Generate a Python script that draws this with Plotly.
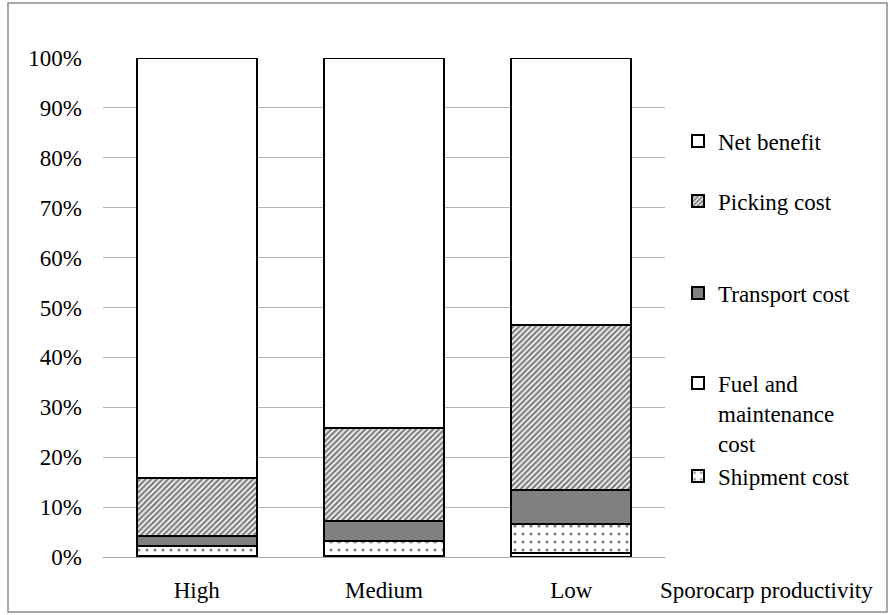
import plotly.graph_objects as go

categories = ["High", "Medium", "Low"]
fuel = [0.3, 0.3, 0.9]
shipment = [1.9, 3.0, 5.8]
transport = [2.1, 4.0, 6.7]
picking = [11.5, 18.6, 33.1]
net = [84.2, 74.1, 53.5]

ytick_vals = [0, 10, 20, 30, 40, 50, 60, 70, 80, 90, 100]
ytick_text = ["0%", "10%", "20%", "30%", "40%", "50%", "60%", "70%", "80%", "90%", "100%"]

FONT = "'Liberation Serif', 'Times New Roman', Times, serif"
FS = 23

L, R, T, B = 103, 665, 58, 557
W, H = 891, 615

def px_x(px):
    return (px - L) / (R - L)

def px_y(py):
    return (B - py) / (B - T)

line = dict(color="black", width=2)

fig = go.Figure()
fig.add_trace(go.Bar(x=categories, y=fuel, name="Fuel and<br>maintenance<br>cost",
                     marker=dict(color="white", line=line), legend="legend4", showlegend=True))
fig.add_trace(go.Bar(x=categories, y=shipment, name="Shipment cost",
                     marker=dict(color="white", line=line,
                                 pattern=dict(shape=".", fgcolor="black", bgcolor="white",
                                              size=8, solidity=0.12)), legend="legend5", showlegend=True))
fig.add_trace(go.Bar(x=categories, y=transport, name="Transport cost",
                     marker=dict(color="#808080", line=line), legend="legend3", showlegend=True))
fig.add_trace(go.Bar(x=categories, y=picking, name="Picking cost",
                     marker=dict(color="white", line=line,
                                 pattern=dict(shape="/", fgcolor="black", bgcolor="white",
                                              size=4, solidity=0.6)), legend="legend2", showlegend=True))
fig.add_trace(go.Bar(x=categories, y=net, name="Net benefit",
                     marker=dict(color="white", line=line), legend="legend", showlegend=True))

leg_common = dict(font=dict(family=FONT, size=FS, color="black"), bgcolor="rgba(0,0,0,0)",
                  xanchor="left", yanchor="middle", itemsizing="constant")
lx = px_x(678)

fig.update_layout(
    width=W, height=H,
    margin=dict(l=L, r=W - R, t=T, b=H - B, autoexpand=False),
    paper_bgcolor="white", plot_bgcolor="white",
    barmode="stack", bargap=0.36, showlegend=True,
    font=dict(family=FONT, size=FS, color="black"),
    legend=dict(x=lx, y=px_y(141), **leg_common),
    legend2=dict(x=lx, y=px_y(201), **leg_common),
    legend3=dict(x=lx, y=px_y(293), **leg_common),
    legend4=dict(x=lx, y=px_y(413), valign="top", **leg_common),
    legend5=dict(x=lx, y=px_y(476), **leg_common),
    xaxis=dict(showline=True, linecolor="#a6a6a6", linewidth=1, ticks="", automargin=False,
               tickfont=dict(family=FONT, size=FS), ticklabelstandoff=12),
    yaxis=dict(range=[0, 100], tickmode="array", tickvals=ytick_vals, ticktext=ytick_text,
               showgrid=True, gridcolor="#b3b3b3", gridwidth=1, zeroline=False, automargin=False,
               showline=False, ticks="", ticklabelstandoff=20,
               tickfont=dict(family=FONT, size=FS)),
    shapes=[dict(type="rect", xref="paper", yref="paper",
                 x0=px_x(8), x1=px_x(887), y0=px_y(612), y1=px_y(3),
                 line=dict(color="#8c8c8c", width=1.5), fillcolor="rgba(0,0,0,0)", layer="below")],
    annotations=[dict(text="Sporocarp productivity", xref="paper", yref="paper",
                      x=px_x(766), y=px_y(590), showarrow=False,
                      font=dict(family=FONT, size=FS, color="black"),
                      xanchor="center", yanchor="middle")],
)

fig.write_html("out.html", config={"displayModeBar": False},
               post_script="document.body.style.margin='0';")
